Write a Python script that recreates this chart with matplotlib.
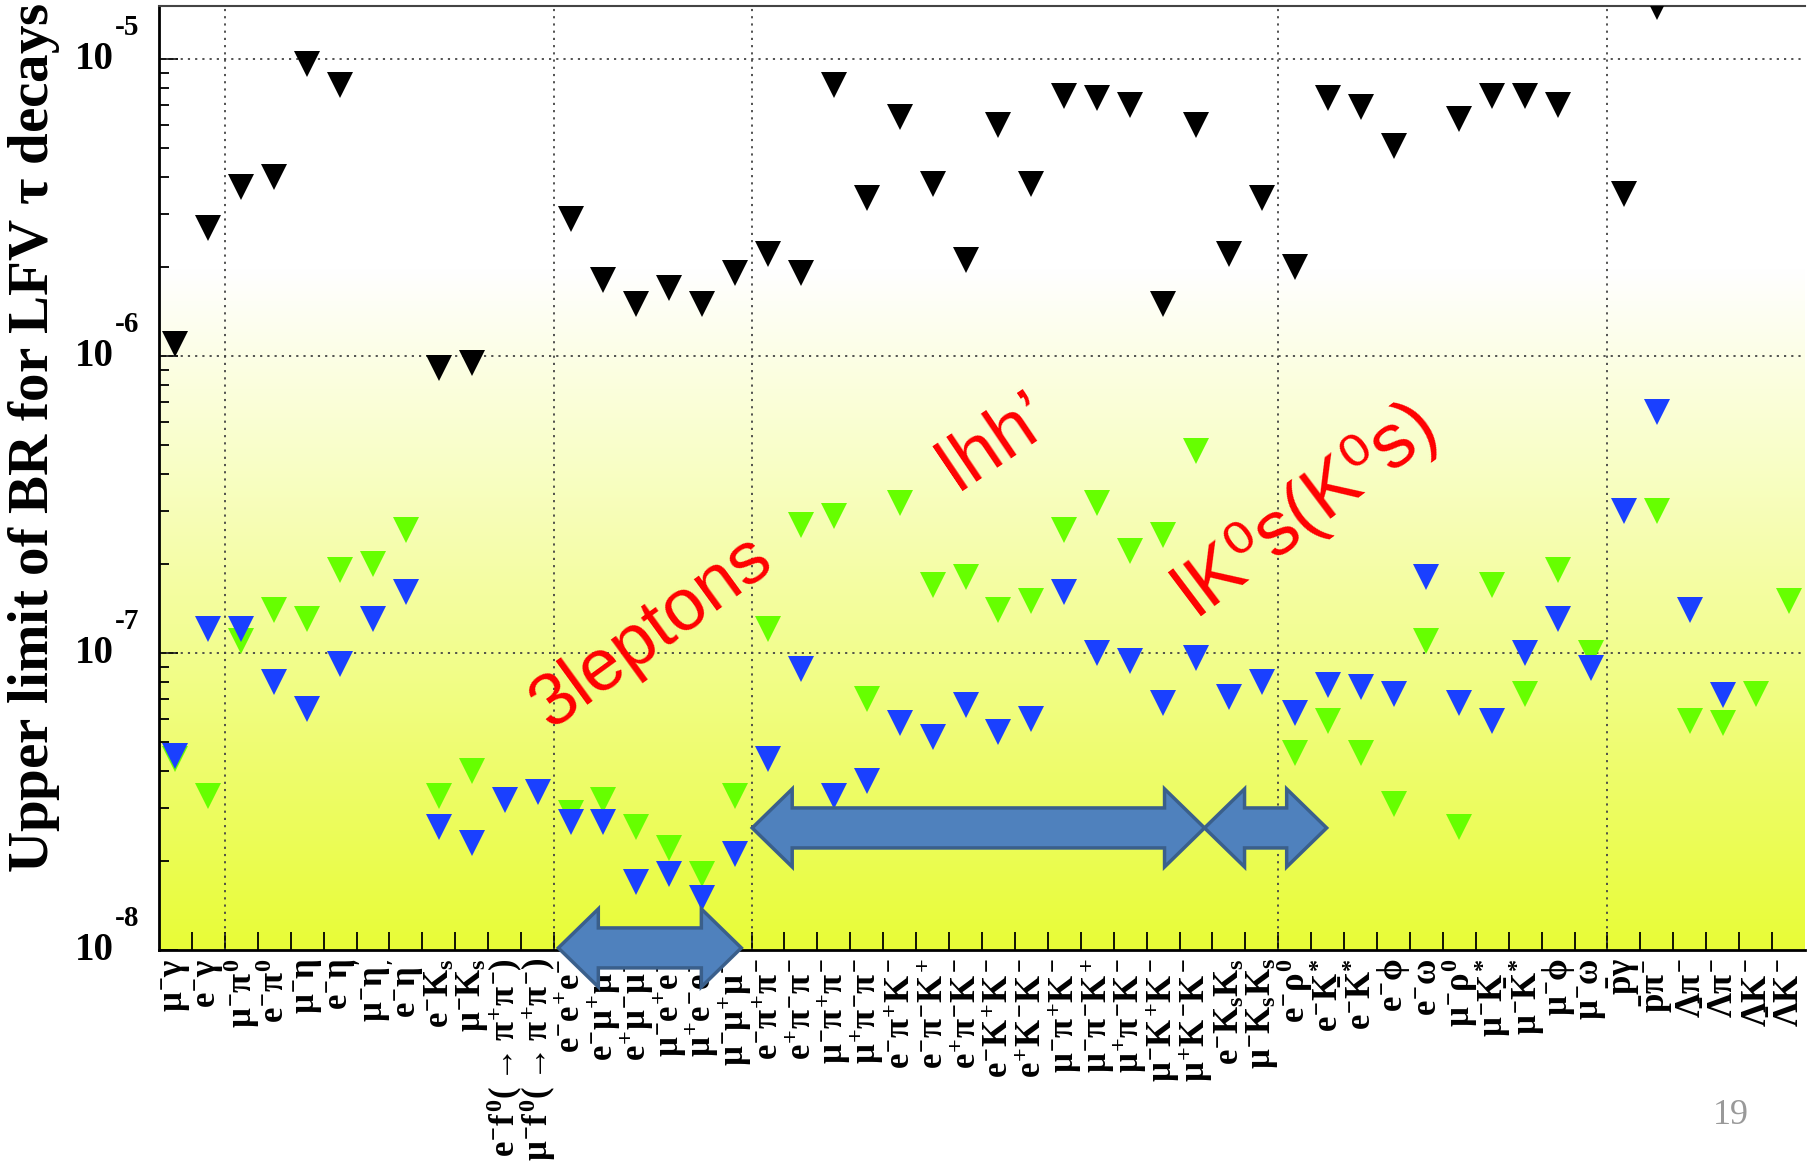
import numpy as np
import matplotlib
matplotlib.use('Agg')
import matplotlib.pyplot as plt
from matplotlib.patches import Polygon
from matplotlib.transforms import IdentityTransform, offset_copy
from matplotlib.ticker import LogLocator, NullFormatter

plt.rcParams['mathtext.fontset'] = 'custom'
plt.rcParams['mathtext.rm'] = 'Liberation Serif:bold'
plt.rcParams['mathtext.it'] = 'Liberation Serif:bold'
plt.rcParams['mathtext.bf'] = 'Liberation Serif:bold'

nan = np.nan

# decay modes (x axis)
labels = [
    r'$\mu^{-}\gamma$', r'$e^{-}\gamma$', r'$\mu^{-}\pi^{0}$', r'$e^{-}\pi^{0}$',
    r'$\mu^{-}\eta$', r'$e^{-}\eta$', r"$\mu^{-}\eta'$", r"$e^{-}\eta'$",
    r'$e^{-}K_{s}$', r'$\mu^{-}K_{s}$',
    r'$e^{-}f^{0}(\rightarrow\pi^{+}\pi^{-})$', r'$\mu^{-}f^{0}(\rightarrow\pi^{+}\pi^{-})$',
    r'$e^{-}e^{+}e^{-}$', r'$e^{-}\mu^{+}\mu^{-}$', r'$e^{+}\mu^{-}\mu^{-}$',
    r'$\mu^{-}e^{+}e^{-}$', r'$\mu^{+}e^{-}e^{-}$', r'$\mu^{-}\mu^{+}\mu^{-}$',
    r'$e^{-}\pi^{+}\pi^{-}$', r'$e^{+}\pi^{-}\pi^{-}$', r'$\mu^{-}\pi^{+}\pi^{-}$', r'$\mu^{+}\pi^{-}\pi^{-}$',
    r'$e^{-}\pi^{+}K^{-}$', r'$e^{-}\pi^{-}K^{+}$', r'$e^{+}\pi^{-}K^{-}$', r'$e^{-}K^{+}K^{-}$', r'$e^{+}K^{-}K^{-}$',
    r'$\mu^{-}\pi^{+}K^{-}$', r'$\mu^{-}\pi^{-}K^{+}$', r'$\mu^{+}\pi^{-}K^{-}$', r'$\mu^{-}K^{+}K^{-}$', r'$\mu^{+}K^{-}K^{-}$',
    r'$e^{-}K_{s}K_{s}$', r'$\mu^{-}K_{s}K_{s}$',
    r'$e^{-}\rho^{0}$', r'$e^{-}K^{*}$', r'$e^{-}\bar{K}^{*}$', r'$e^{-}\phi$', r'$e^{-}\omega$',
    r'$\mu^{-}\rho^{0}$', r'$\mu^{-}K^{*}$', r'$\mu^{-}\bar{K}^{*}$', r'$\mu^{-}\phi$', r'$\mu^{-}\omega$',
    r'$\bar{p}\gamma$', r'$\bar{p}\pi^{-}$', r'$\Lambda\pi^{-}$', r'$\bar{\Lambda}\pi^{-}$',
    r'$\Lambda K^{-}$', r'$\bar{\Lambda}K^{-}$']

# upper limits, black markers
black_ul = [1.1e-6, 2.7e-6, 3.7e-6, 4.0e-6, 9.6e-6, 8.2e-6, nan, nan, 9.1e-7, 9.5e-7,
            nan, nan, 2.9e-6, 1.8e-6, 1.5e-6, 1.7e-6, 1.5e-6, 1.9e-6,
            2.2e-6, 1.9e-6, 8.2e-6, 3.4e-6, 6.4e-6, 3.8e-6, 2.1e-6, 6.0e-6, 3.8e-6,
            7.5e-6, 7.4e-6, 7.0e-6, 1.5e-6, 6.0e-6, 2.2e-6, 3.4e-6,
            2.0e-6, 7.4e-6, 6.9e-6, 5.1e-6, nan, 6.3e-6, 7.5e-6, 7.5e-6, 7.0e-6, nan,
            3.5e-6, 1.5e-5, nan, nan, nan, nan]

# upper limits, green markers
green_ul = [4.4e-8, 3.3e-8, 1.1e-7, 1.4e-7, 1.3e-7, 1.9e-7, 2.0e-7, 2.6e-7, 3.3e-8, 4.0e-8,
            nan, nan, 2.9e-8, 3.2e-8, 2.6e-8, 2.2e-8, 1.8e-8, 3.3e-8,
            1.2e-7, 2.7e-7, 2.9e-7, 7.0e-8, 3.2e-7, 1.7e-7, 1.8e-7, 1.4e-7, 1.5e-7,
            2.6e-7, 3.2e-7, 2.2e-7, 2.5e-7, 4.8e-7, nan, nan,
            4.6e-8, 5.9e-8, 4.6e-8, 3.1e-8, 1.1e-7, 2.6e-8, 1.7e-7, 7.3e-8, 1.9e-7, 1.0e-7,
            nan, 3.0e-7, 5.9e-8, 5.8e-8, 7.3e-8, 1.5e-7]

# upper limits, blue markers
blue_ul = [4.5e-8, 1.2e-7, 1.2e-7, 8.0e-8, 6.5e-8, 9.2e-8, 1.3e-7, 1.6e-7, 2.6e-8, 2.3e-8,
           3.2e-8, 3.4e-8, 2.7e-8, 2.7e-8, 1.7e-8, 1.8e-8, 1.5e-8, 2.1e-8,
           4.4e-8, 8.8e-8, 3.3e-8, 3.7e-8, 5.8e-8, 5.2e-8, 6.7e-8, 5.4e-8, 6.0e-8,
           1.6e-7, 1.0e-7, 9.4e-8, 6.8e-8, 9.6e-8, 7.1e-8, 8.0e-8,
           6.3e-8, 7.8e-8, 7.7e-8, 7.3e-8, 1.8e-7, 6.8e-8, 5.9e-8, 1.0e-7, 1.3e-7, 8.9e-8,
           3.0e-7, 6.5e-7, 1.4e-7, 7.2e-8, nan, nan]

group_edges = [1.5, 11.5, 17.5, 33.5, 43.5]

W, H = 1816, 1166
fig = plt.figure(figsize=(W / 100, H / 100), dpi=100)
pos = [159 / W, 1 - 950 / H, (1805 - 159) / W, (950 - 6) / H]

# gradient background
bg = fig.add_axes(pos, zorder=0)
f = np.linspace(0, 1, 400)
t = np.clip(f / 0.72, 0, 1)[:, None]
bottom_c = np.array([232, 252, 55]) / 255
top_c = np.array([1.0, 1.0, 1.0])
grad = bottom_c + (top_c - bottom_c) * t
bg.imshow(grad[:, None, :].repeat(2, axis=1), origin='lower', aspect='auto', extent=[0, 1, 0, 1])
bg.axis('off')

ax = fig.add_axes(pos, zorder=1)
ax.set_facecolor('none')
ax.set_yscale('log')
ax.set_xlim(-0.5, len(labels) - 0.5)
ax.set_ylim(1e-8, 10 ** -4.8215)

x = np.arange(len(labels))
ax.plot(x, black_ul, 'v', color='black', ms=19, mew=0, ls='none', zorder=3)
ax.plot(x, green_ul, 'v', color='#66ff00', ms=19, mew=0, ls='none', zorder=4)
ax.plot(x, blue_ul, 'v', color='#1a40ff', ms=19, mew=0, ls='none', zorder=5)

grid_style = dict(color='#444444', lw=1.3, ls=(0, (1.2, 2.8)), zorder=2)
for d in [1e-7, 1e-6, 1e-5]:
    ax.axhline(d, **grid_style)
for e in group_edges:
    ax.axvline(e, **grid_style)

# x ticks at bin edges, labels at bin centres
ax.set_xticks(np.arange(0.5, len(labels) - 1, 1))
ax.set_xticklabels([])
ax.tick_params(axis='x', which='major', direction='in', length=13, width=1.3, top=False)
ax.set_xticks(x, minor=True)
ax.set_xticklabels(labels, minor=True, rotation=90, fontsize=25)
ax.tick_params(axis='x', which='minor', length=0, pad=6)

ax.yaxis.set_major_locator(LogLocator(base=10))
ax.yaxis.set_minor_locator(LogLocator(base=10, subs=np.arange(2, 10)))
ax.yaxis.set_major_formatter(NullFormatter())
ax.yaxis.set_minor_formatter(NullFormatter())
ax.tick_params(axis='y', which='major', direction='in', length=14, width=1.3, right=False)
ax.tick_params(axis='y', which='minor', direction='in', length=7, width=1.3, right=False)

for e in [-5, -6, -7, -8]:
    tr10 = offset_copy(ax.get_yaxis_transform(), fig=fig, x=-45, y=0, units='dots')
    ax.text(0, 10.0 ** e, '10', transform=tr10, ha='right', va='center',
            fontsize=28, fontweight='bold', family='Liberation Serif')
    trex = offset_copy(ax.get_yaxis_transform(), fig=fig, x=-20, y=32, units='dots')
    ax.text(0, 10.0 ** e, str(e), transform=trex, ha='right', va='center',
            fontsize=21, fontweight='bold', family='Liberation Serif')

ax.spines['right'].set_visible(False)
ax.spines['top'].set_color('#444444')
ax.spines['top'].set_linewidth(1.5)
ax.spines['left'].set_linewidth(2)
ax.spines['bottom'].set_linewidth(2)

fig.text(34 / W, 1 - 438 / H, r'Upper limit of BR for LFV $\tau$ decays', rotation=90,
         ha='center', va='center', fontsize=41, fontweight='bold', family='Liberation Serif')

red_font = ['Liberation Sans', 'DejaVu Sans']
ax.text(14.45, 10 ** -6.93, '3leptons', rotation=36, ha='center', va='center',
        rotation_mode='anchor', color='red', fontsize=53, family=red_font, zorder=6)
ax.text(24.9, 10 ** -6.29, 'lhh\u2019', rotation=34, ha='center', va='center',
        rotation_mode='anchor', color='red', fontsize=54, family=red_font, zorder=6)
ax.text(34.35, 10 ** -6.51, 'lK\u2070s(K\u2070s)', rotation=37, ha='center', va='center',
        rotation_mode='anchor', color='red', fontsize=55, family=red_font, zorder=6)


def block_arrow(x0, x1, yc, head_len=40, head_h=39, shaft_h=20):
    (p0, py), = ax.transData.transform([(x0, yc)])
    (p1, _), = ax.transData.transform([(x1, yc)])
    verts = [(p0, py), (p0 + head_len, py + head_h), (p0 + head_len, py + shaft_h),
             (p1 - head_len, py + shaft_h), (p1 - head_len, py + head_h), (p1, py),
             (p1 - head_len, py - head_h), (p1 - head_len, py - shaft_h),
             (p0 + head_len, py - shaft_h), (p0 + head_len, py - head_h)]
    patch = Polygon(verts, closed=True, transform=IdentityTransform(),
                    facecolor='#4f81bd', edgecolor='#3a5f8b', lw=2.5, zorder=10)
    fig.add_artist(patch)


block_arrow(11.63, 17.19, 10 ** -7.993)
block_arrow(17.52, 31.26, 10 ** -7.589)
block_arrow(31.26, 34.97, 10 ** -7.589)

fig.text(1731 / W, 1 - 1115 / H, '19', ha='center', va='center', color='#999999',
         fontsize=26, family='Liberation Serif')

fig.savefig('out.png', dpi=100)
